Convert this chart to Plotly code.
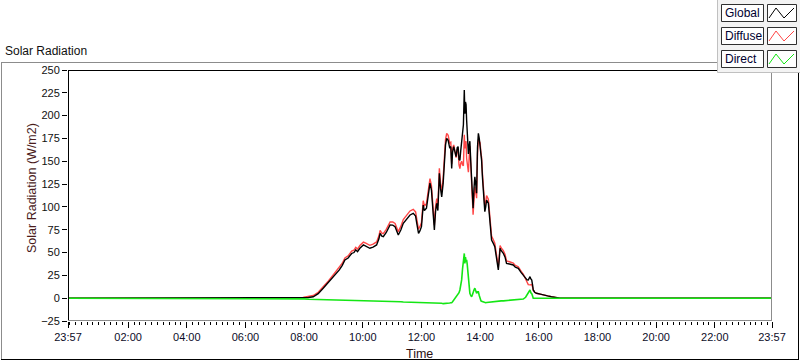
import plotly.graph_objects as go

# ---------------- data (hours since midnight) ----------------
hours = [-0.05, 7.90, 8.00, 8.15, 8.31, 8.48, 8.65, 8.82, 8.99, 9.10, 9.20, 9.30, 9.39, 9.50, 9.62, 9.70, 9.76, 9.82,
         9.90, 10.02, 10.10, 10.24, 10.35, 10.47, 10.55, 10.59, 10.65, 10.70, 10.80, 10.93, 11.02, 11.10, 11.21, 11.30,
         11.38, 11.50, 11.61, 11.72, 11.80, 11.84, 11.90, 11.95, 12.00, 12.06, 12.10, 12.17, 12.23, 12.29, 12.34, 12.40,
         12.44, 12.48, 12.52, 12.56, 12.61, 12.65, 12.69, 12.74, 12.78, 12.82, 12.86, 12.91, 12.96, 13.00, 13.03, 13.06,
         13.10, 13.14, 13.18, 13.22, 13.25, 13.28, 13.31, 13.34, 13.37, 13.40, 13.43, 13.46, 13.48, 13.50, 13.52, 13.54,
         13.56, 13.58, 13.60, 13.63, 13.65, 13.68, 13.71, 13.74, 13.76, 13.79, 13.82, 13.85, 13.88, 13.91, 13.94, 13.97,
         14.00, 14.03, 14.05, 14.08, 14.11, 14.14, 14.16, 14.19, 14.22, 14.28, 14.31, 14.34, 14.37, 14.39, 14.45, 14.50,
         14.53, 14.56, 14.62, 14.65, 14.68, 14.72, 14.79, 14.85, 14.90, 15.00, 15.13, 15.20, 15.30, 15.40, 15.47, 15.55,
         15.60, 15.64, 15.70, 15.73, 15.76, 15.79, 15.81, 15.86, 15.92, 16.05, 16.15, 16.30, 16.43, 16.60, 16.72, 23.95]

global_rad = [0, 0, 0.3, 0.8, 1.6, 5.0, 10.8, 17.0, 23.6, 28.0, 31.0, 36.0, 41.8, 44.0, 49.0, 50.0, 53.0, 51.0,
              54.7, 58.3, 57.0, 54.7, 56.0, 58.3, 65.0, 71.0, 68.0, 67.4, 72.0, 80.2, 80.0, 78.3, 69.2, 75.0,
              82.0, 87.0, 91.2, 93.0, 90.0, 82.0, 71.0, 74.0, 78.3, 102.0, 96.0, 98.5, 115.0, 126.0, 118.5, 90.0,
              74.7, 95.0, 104.0, 96.0, 136.8, 120.0, 111.0, 126.0, 150.0, 168.0, 175.0, 173.0, 165.0, 166.0, 142.0, 160.0,
              166.0, 160.0, 155.0, 165.0, 166.0, 152.0, 151.0, 162.0, 170.0, 178.0, 190.0, 228.0, 202.0, 215.0, 212.0, 195.0,
              184.0, 170.0, 158.0, 168.0, 172.0, 150.0, 133.0, 110.0, 98.5, 120.0, 133.0, 125.0, 115.0, 165.0, 180.6, 175.0,
              168.0, 155.0, 151.0, 132.0, 118.5, 100.0, 94.8, 100.0, 107.6, 104.0, 95.0, 85.7, 72.0, 63.8, 60.0, 56.4,
              50.0, 41.8, 30.9, 42.0, 54.7, 52.0, 49.2, 45.0, 38.2, 37.5, 36.4, 34.0, 32.8, 28.0, 25.4, 22.0,
              20.0, 19.9, 23.6, 21.0, 19.9, 14.0, 9.0, 6.5, 5.4, 4.5, 3.5, 2.5, 1.6, 0.8, 0.0, 0]

direct_rad = [0, 0, -0.8, -1.2, -1.3, -1.4, -1.5, -1.6, -1.8, -2.0, -2.2, -2.3, -2.3, -2.4, -2.5, -2.6, -2.7, -2.8,
              -3.0, -3.1, -3.2, -3.2, -3.2, -3.3, -3.3, -3.3, -3.3, -3.3, -3.4, -3.4, -3.5, -3.6, -3.7, -3.9,
              -4.2, -4.3, -4.4, -4.4, -4.5, -4.5, -4.5, -4.6, -4.6, -4.8, -5.0, -5.0, -5.3, -5.0, -4.8, -5.0,
              -5.5, -5.0, -5.0, -5.2, -5.5, -5.5, -5.6, -6.0, -6.0, -5.8, -5.5, -5.5, -5.2, -5.0, -5.0, -4.0,
              -2.0, 0.0, 1.0, 2.5, 4.0, 6.0, 9.0, 14.0, 20.0, 32.0, 45.0, 49.0, 38.0, 45.0, 40.0, 42.0,
              37.0, 28.0, 20.0, 12.0, 5.4, 3.0, 1.6, 4.0, 7.0, 9.0, 11.0, 8.0, 5.4, 7.0, 7.0, 3.0,
              -2.0, -3.0, -3.5, -4.0, -4.5, -5.0, -5.0, -5.0, -4.8, -4.5, -4.5, -4.5, -4.4, -4.3, -4.0, -3.8,
              -3.6, -3.5, -3.2, -3.0, -3.0, -3.0, -2.9, -2.8, -2.6, -2.4, -2.0, -1.9, -1.7, -1.4, -1.0, 1.0,
              3.5, 5.0, 9.0, 6.0, 5.0, 2.0, 0.0, 0.0, 0.0, 0.0, 0.0, 0.0, 0.0, 0.0, 0.0, 0]

diffuse_rad = [0, 0, 1.1, 2.0, 2.9, 6.4, 12.3, 18.6, 25.4, 30.0, 33.2, 38.3, 44.1, 46.4, 51.5, 52.6, 55.7, 53.8,
               57.7, 61.4, 60.2, 57.9, 59.2, 61.6, 68.3, 74.3, 71.3, 70.7, 75.4, 83.6, 83.5, 81.9, 72.9, 78.9,
               86.2, 91.3, 95.6, 97.4, 94.5, 86.5, 75.5, 78.6, 82.9, 106.8, 101.0, 103.5, 120.3, 131.0, 123.3, 95.0,
               80.2, 100.0, 109.0, 101.2, 142.3, 125.5, 116.6, 132.0, 156.0, 173.8, 180.5, 178.5, 170.2, 171.0, 147.0, 164.0,
               168.0, 160.0, 154.0, 162.5, 162.0, 146.0, 142.0, 148.0, 150.0, 146.0, 145.0, 179.0, 164.0, 170.0, 172.0, 153.0,
               147.0, 142.0, 138.0, 156.0, 166.6, 147.0, 131.4, 106.0, 91.5, 111.0, 122.0, 117.0, 109.6, 158.0, 173.6, 172.0,
               170.0, 158.0, 154.5, 136.0, 123.0, 105.0, 99.8, 105.0, 112.4, 108.5, 99.5, 90.2, 76.4, 68.1, 64.0, 60.2,
               53.6, 45.3, 34.1, 45.0, 57.7, 55.0, 52.1, 47.8, 40.8, 39.9, 38.4, 35.9, 34.5, 29.4, 26.4, 21.0,
               16.5, 14.9, 14.6, 15.0, 14.9, 12.0, 9.0, 6.5, 5.4, 4.5, 3.5, 2.5, 1.6, 0.8, 0.0, 0]

x_tick_vals = [-0.05, 2, 4, 6, 8, 10, 12, 14, 16, 18, 20, 22, 23.95]
x_tick_text = ["23:57", "02:00", "04:00", "06:00", "08:00", "10:00", "12:00", "14:00", "16:00",
               "18:00", "20:00", "22:00", "23:57"]
y_tick_vals = [-25, 0, 25, 50, 75, 100, 125, 150, 175, 200, 225, 250]
legend_names = ["Global", "Diffuse", "Direct"]
legend_colors = ["#000000", "#ff4646", "#14e614"]

# ---------------- layout helpers (pixel -> paper) ----------------
W, H = 800, 361
L, R, T, B = 68, 772, 70, 321


def px(x):
    return (x - L) / (R - L)


def py(y):
    return (B - y) / (B - T)


fig = go.Figure()
fig.add_trace(go.Scatter(x=hours, y=diffuse_rad, mode="lines", name="Diffuse",
                         line=dict(color=legend_colors[1], width=1.4), showlegend=False))
fig.add_trace(go.Scatter(x=hours, y=global_rad, mode="lines", name="Global",
                         line=dict(color=legend_colors[0], width=1.4), showlegend=False))
fig.add_trace(go.Scatter(x=hours, y=direct_rad, mode="lines", name="Direct",
                         line=dict(color=legend_colors[2], width=1.6), showlegend=False))

shapes = []


def line(x0, y0, x1, y1, color, width=1):
    shapes.append(dict(type="line", xref="paper", yref="paper", x0=px(x0), y0=py(y0), x1=px(x1), y1=py(y1),
                       line=dict(color=color, width=width), layer="above"))


def rect(x0, y0, x1, y1, fill, color, width=1):
    shapes.append(dict(type="rect", xref="paper", yref="paper", x0=px(x0), y0=py(y0), x1=px(x1), y1=py(y1),
                       fillcolor=fill, line=dict(color=color, width=width), layer="above"))


# plot area border
line(L, T + 0.5, R, T + 0.5, "#000000")
line(L + 0.5, T, L + 0.5, B, "#000000")
line(R - 0.5, T, R - 0.5, B, "#8c8c8c")
line(L, B - 0.5, R, B - 0.5, "#8c8c8c")
# outer frame
line(1.5, 62.5, 718, 62.5, "#8c8c8c")
line(1.5, 62, 1.5, 359, "#8c8c8c")
line(798.5, 72, 798.5, 360, "#000000")
line(1, 359.5, 799, 359.5, "#000000")
# legend panel
rect(717.5, -1, 801, 72.5, "#f3f3f3", "#c0c0c0")
annotations = []
for i, (name, col) in enumerate(zip(legend_names, legend_colors)):
    dy = i * 23
    rect(721.5, 4.5 + dy, 763.5, 21.5 + dy, "#ffffff", "#303030")
    rect(767.5, 4.5 + dy, 796.5, 21.5 + dy, "#ffffff", "#303030")
    path = "M {} {} L {} {} L {} {} L {} {}".format(
        px(769), py(18 + dy), px(776), py(8 + dy), px(784), py(18 + dy), px(794), py(8 + dy))
    shapes.append(dict(type="path", xref="paper", yref="paper", path=path,
                       line=dict(color=col, width=1), layer="above"))
    annotations.append(dict(text=name, x=px(723), y=py(13 + dy), xref="paper", yref="paper",
                            xanchor="left", yanchor="middle", showarrow=False,
                            font=dict(family="Liberation Sans, Arial", size=12, color="#000030")))

annotations.append(dict(text="Solar Radiation", x=px(3), y=py(51), xref="paper", yref="paper",
                        xanchor="left", yanchor="middle", showarrow=False,
                        font=dict(family="Liberation Sans, Arial", size=12, color="#101010")))
annotations.append(dict(text="Solar Radiation (W/m2)", x=px(32), y=py(188), xref="paper", yref="paper",
                        xanchor="center", yanchor="middle", showarrow=False, textangle=-90,
                        font=dict(family="Liberation Sans, Arial", size=12.5, color="#4a1c1c")))
annotations.append(dict(text="Time", x=px(419), y=py(354), xref="paper", yref="paper",
                        xanchor="center", yanchor="middle", showarrow=False,
                        font=dict(family="Liberation Sans, Arial", size=12.5, color="#2a1010")))

tick_font = dict(family="Liberation Sans Narrow, Liberation Sans, Arial", size=11)

fig.update_layout(
    width=W, height=H,
    margin=dict(l=L, r=W - R, t=T, b=H - B, pad=0),
    paper_bgcolor="#ffffff", plot_bgcolor="#ffffff",
    shapes=shapes, annotations=annotations,
    showlegend=False,
    xaxis=dict(range=[-0.05, 23.95], tickmode="array", tickvals=x_tick_vals, ticktext=x_tick_text,
               ticks="outside", ticklen=6, tickcolor="#000000", tickwidth=1,
               showgrid=False, zeroline=False, showline=False,
               tickfont=dict(color="#0c0c28", **tick_font),
               minor=dict(ticks="outside", ticklen=3, tick0=0, dtick=0.2, tickcolor="#000000", showgrid=False)),
    yaxis=dict(range=[-25, 250], tickmode="array", tickvals=y_tick_vals,
               ticks="outside", ticklen=5, tickcolor="#000000", tickwidth=1,
               showgrid=False, zeroline=False, showline=False,
               tickfont=dict(color="#101010", **tick_font)),
)

fig.write_html("out.html", config={"displayModeBar": False},
               post_script="document.body.style.margin='0';document.body.style.overflow='hidden';")
